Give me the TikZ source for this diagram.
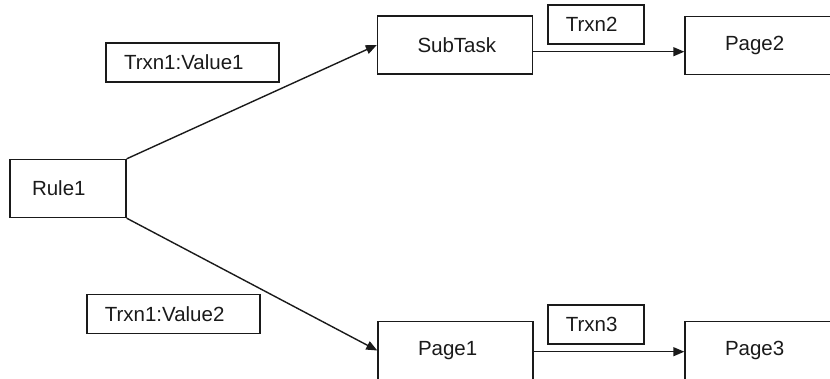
\documentclass[tikz,border=0pt]{standalone}
\usepackage{fontspec}
\setmainfont{Liberation Sans}
\usetikzlibrary{arrows.meta}
\definecolor{ink}{HTML}{1A1A1A}
\tikzset{
  box/.style={draw=ink, line width=1.4pt, rectangle, inner ysep=0pt, align=left,
    font=\fontsize{20.5}{24}\selectfont, text=ink},
  bigbox/.style={box, minimum width=155pt, minimum height=58pt, inner xsep=40pt, text width=75pt},
  rulebox/.style={box, minimum width=116pt, minimum height=58pt, inner xsep=22pt, text width=72pt},
  lblbox/.style={box, minimum height=39pt, inner xsep=18pt},
  conn/.style={draw=ink, line width=1.4pt, -{Triangle[length=11pt,width=9pt]}}
}
\begin{document}
\begin{tikzpicture}[x=1pt,y=-1pt]
\useasboundingbox (0,0) rectangle (830,378);
\node[rulebox] (rule1) at (68,188.5) {Rule1};
\node[bigbox] (subtask) at (455,45) {SubTask};
\node[bigbox] (page2) at (762.5,45.2) {Page2};
\node[bigbox] (page1) at (455.5,350.5) {Page1};
\node[bigbox] (page3) at (762.5,350.3) {Page3};
\node[lblbox, text width=137pt] (v1) at (192.5,62.5) {Trxn1:Value1};
\node[lblbox, text width=137pt] (v2) at (173.3,313.7) {Trxn1:Value2};
\node[lblbox, text width=60pt] (t2) at (595.8,24.3) {Trxn2};
\node[lblbox, text width=60pt] (t3) at (595.8,324.3) {Trxn3};
\draw[conn] (rule1.north east) -- (subtask.west);
\draw[conn] (rule1.south east) -- (page1.west);
\draw[conn] ([yshift=-6.7pt]subtask.east) -- ([yshift=-6.5pt]page2.west);
\draw[conn] ([yshift=-1.2pt]page1.east) -- ([yshift=-1.4pt]page3.west);
\end{tikzpicture}
\end{document}
